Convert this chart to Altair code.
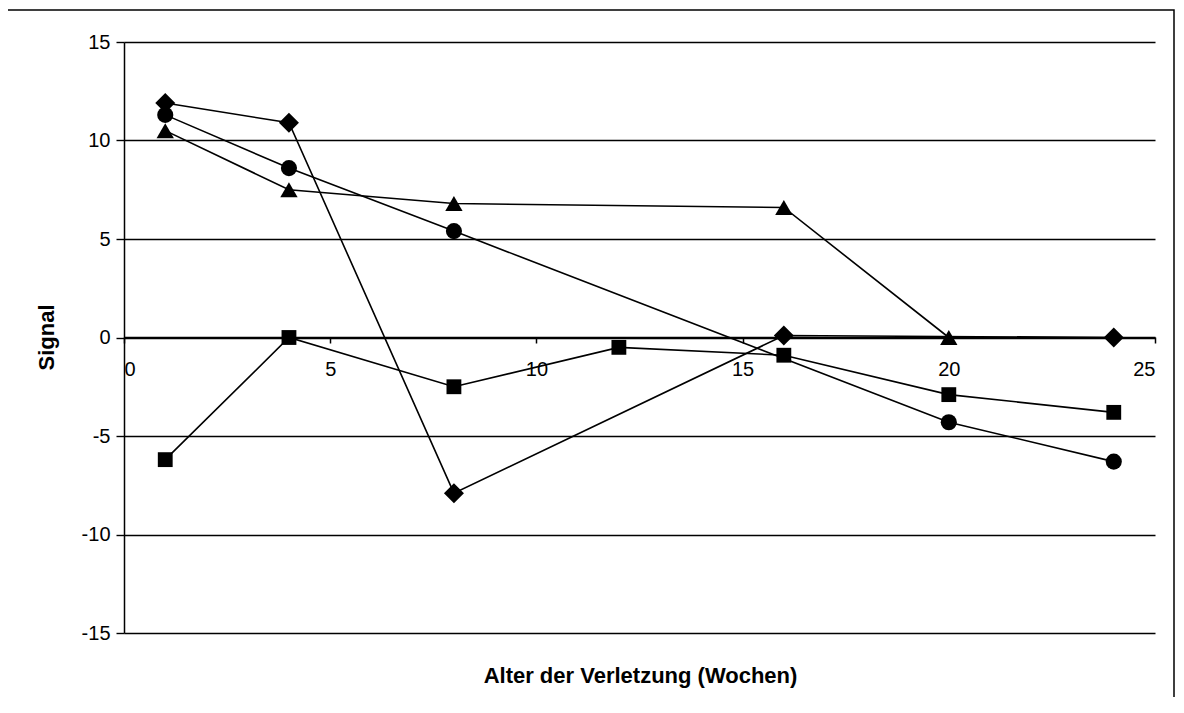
import altair as alt
import pandas as pd

# Series data (x = Alter der Verletzung in Wochen, y = Signal)
rhombus_x = [1, 4, 8, 16, 24]
rhombus_y = [11.9, 10.9, -7.9, 0.1, 0.0]

square_x = [1, 4, 8, 12, 16, 20, 24]
square_y = [-6.2, 0.0, -2.5, -0.5, -0.9, -2.9, -3.8]

triangle_x = [1, 4, 8, 16, 20]
triangle_y = [10.5, 7.5, 6.8, 6.6, 0.0]

circle_x = [1, 4, 8, 20, 24]
circle_y = [11.3, 8.6, 5.4, -4.3, -6.3]

series_names = ["Raute", "Quadrat", "Dreieck", "Kreis"]
series_shapes = ["diamond", "square", "triangle-up", "circle"]
series_sizes = [400, 220, 300, 260]

x_ticks = [0, 5, 10, 15, 20, 25]
y_ticks = [-15, -10, -5, 0, 5, 10, 15]

rows = []
for name, xs, ys in zip(series_names,
                        [rhombus_x, square_x, triangle_x, circle_x],
                        [rhombus_y, square_y, triangle_y, circle_y]):
    for xv, yv in zip(xs, ys):
        rows.append({"serie": name, "x": xv, "y": yv})
df = pd.DataFrame(rows)

FONT = "Liberation Sans"

x_enc = alt.X(
    "x:Q",
    scale=alt.Scale(domain=[0, 25], nice=False, zero=False),
    axis=alt.Axis(
        values=x_ticks,
        labelExpr="'' + datum.value",
        title="Alter der Verletzung (Wochen)",
        offset=-296,
        grid=False,
        domainColor="black",
        domainWidth=1.5,
        tickColor="black",
        tickWidth=1.5,
        tickSize=6,
        labelPadding=16,
        labelFontSize=20,
        labelFont=FONT,
        labelColor="black",
        titleFont=FONT,
        titleFontSize=22,
        titleFontWeight="bold",
        titleColor="black",
        titleX=516,
        titleY=338,
        titleAlign="center",
        titleBaseline="middle",
    ),
)

y_enc = alt.Y(
    "y:Q",
    scale=alt.Scale(domain=[-15, 15], nice=False, zero=False),
    axis=alt.Axis(
        values=y_ticks,
        labelExpr="'' + datum.value",
        title="Signal",
        grid=True,
        gridColor="black",
        gridWidth=1.4,
        domainColor="black",
        domainWidth=1.5,
        tickColor="black",
        tickWidth=1.4,
        tickSize=8,
        labelPadding=6,
        labelFontSize=20,
        labelFont=FONT,
        labelColor="black",
        titleFont=FONT,
        titleFontSize=22,
        titleFontWeight="bold",
        titleColor="black",
        titleAngle=270,
        titleX=-78,
        titleY=295,
        titleAlign="center",
        titleBaseline="middle",
    ),
)

shape_enc = alt.Shape(
    "serie:N",
    scale=alt.Scale(domain=series_names, range=series_shapes),
    legend=None,
)
size_enc = alt.Size(
    "serie:N",
    scale=alt.Scale(type="ordinal", domain=series_names, range=series_sizes),
    legend=None,
)

base = alt.Chart(df)

lines = base.mark_line(color="black", strokeWidth=1.6).encode(
    x=x_enc, y=y_enc, detail="serie:N", order="x:Q"
)

points = base.mark_point(filled=True, color="black", opacity=1).encode(
    x="x:Q", y="y:Q", shape=shape_enc, size=size_enc
)

frame = alt.Chart(pd.DataFrame({"a": [0]})).mark_rect(
    fill=None, stroke="black", strokeWidth=1.5
).encode(
    x=alt.value(-117), x2=alt.value(1050), y=alt.value(-32), y2=alt.value(656)
)

chart = alt.layer(frame, lines, points).properties(
    width=1031,
    height=591,
    autosize=alt.AutoSizeParams(type="none"),
    padding={"left": 116, "top": 34, "right": 21, "bottom": 64},
    background="white",
).configure_view(stroke=None)

chart.save("out.html", embed_options={"renderer": "svg", "actions": False})
